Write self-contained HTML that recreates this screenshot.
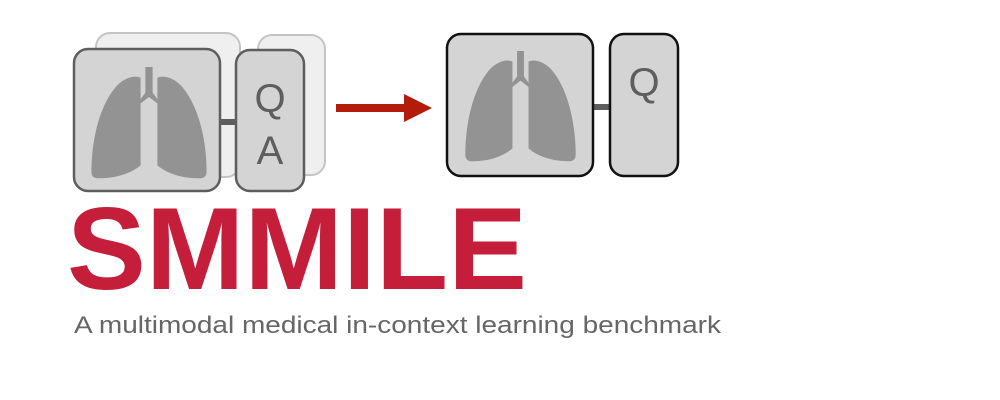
<!DOCTYPE html>
<html><head><meta charset="utf-8"><style>
html,body{margin:0;padding:0;background:#fff;width:1000px;height:400px;overflow:hidden}
</style></head><body>
<svg width="1000" height="400" viewBox="0 0 1000 400">
<defs>
<g id="lung">
<rect x="47" y="0" width="6" height="28" fill="#939393"/>
<path d="M47,24 L43,30 L43,10 C37,7 28,11 22,19 C8,38 2,70 2,98 C2,102 4,104 8,104 C22,104 34,100 43,92 L43,34 L50,28 L57,34 L57,92 C66,100 78,104 92,104 C96,104 98,102 98,98 C98,70 92,38 78,19 C72,11 63,7 57,10 L57,30 L53,24 Z" fill="#939393"/>
</g>
</defs>
<g>
<rect x="96" y="33" width="144" height="144" rx="14" fill="#efefef" stroke="#c4c4c4" stroke-width="2"/>
<rect x="258" y="35" width="67" height="140" rx="14" fill="#efefef" stroke="#c4c4c4" stroke-width="2"/>
<rect x="218" y="119" width="20" height="6" fill="#5e5e5e"/>
<rect x="74" y="49" width="146" height="142" rx="14" fill="#d4d4d4" stroke="#5e5e5e" stroke-width="2.5"/>
<use href="#lung" transform="translate(89,67) scale(1.2,1.07)"/>
<rect x="236" y="50" width="68" height="141" rx="14" fill="#d4d4d4" stroke="#5e5e5e" stroke-width="2.5"/>
<text x="270" y="112" font-family="Liberation Sans, sans-serif" font-size="40" fill="#5e5e5e" text-anchor="middle">Q</text>
<text x="270" y="164" font-family="Liberation Sans, sans-serif" font-size="40" fill="#5e5e5e" text-anchor="middle">A</text>
</g>
<g>
<rect x="336" y="104" width="72" height="8" fill="#b31b0b"/>
<polygon points="404,94 432,108 404,122" fill="#b31b0b"/>
</g>
<g>
<rect x="590" y="104" width="22" height="6" fill="#5e5e5e"/>
<rect x="447" y="34" width="146" height="142" rx="14" fill="#d4d4d4" stroke="#111" stroke-width="2.5"/>
<use href="#lung" transform="translate(463,51) scale(1.15,1.06)"/>
<rect x="610" y="34" width="68" height="142" rx="14" fill="#d4d4d4" stroke="#111" stroke-width="2.5"/>
<text x="644" y="96" font-family="Liberation Sans, sans-serif" font-size="40" fill="#5e5e5e" text-anchor="middle">Q</text>
</g>
<text x="67" y="289" font-family="Liberation Sans, sans-serif" font-weight="bold" font-size="117" fill="#c41e3a" textLength="460" lengthAdjust="spacingAndGlyphs">SMMILE</text>
<text x="74" y="333" font-family="Liberation Sans, sans-serif" font-size="24" fill="#666" textLength="647" lengthAdjust="spacingAndGlyphs">A multimodal medical in-context learning benchmark</text>
</svg>
</body></html>
